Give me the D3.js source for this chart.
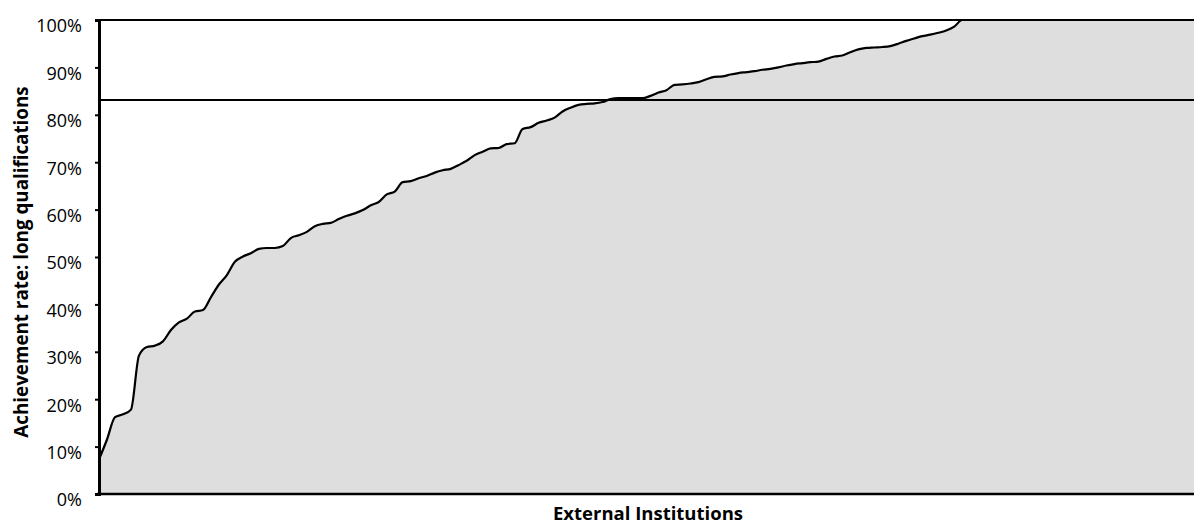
<!DOCTYPE html>
<html>
<head>
<meta charset="utf-8">
<script src="https://cdn.jsdelivr.net/npm/d3@7"></script>
<style>
  html, body { margin: 0; padding: 0; background: #fff; }
  svg { display: block; }
  text { font-family: "Open Sans", sans-serif; fill: #000; }
</style>
</head>
<body>
<svg id="chart" width="1194" height="524"></svg>
<script>
// Achievement rate (%) per external institution, sorted ascending
const rates = [
  7.3, 11.5, 16.2, 16.8, 17.8, 29.2, 31.0, 31.3, 32.2, 34.6,
  36.2, 37.0, 38.5, 38.8, 41.5, 44.2, 46.2, 49.0, 50.1, 50.8,
  51.7, 51.9, 51.9, 52.3, 54.0, 54.6, 55.3, 56.5, 57.0, 57.2,
  58.0, 58.7, 59.2, 59.9, 60.9, 61.6, 63.2, 63.8, 65.8, 66.0,
  66.6, 67.1, 67.8, 68.3, 68.6, 69.4, 70.3, 71.5, 72.2, 72.9,
  73.0, 73.8, 74.0, 77.0, 77.4, 78.3, 78.8, 79.4, 80.7, 81.5,
  82.1, 82.3, 82.4, 82.7, 83.3, 83.5, 83.5, 83.5, 83.5, 84.0,
  84.7, 85.2, 86.3, 86.4, 86.6, 86.9, 87.5, 88.0, 88.1, 88.5,
  88.8, 89.0, 89.2, 89.5, 89.7, 90.0, 90.4, 90.7, 90.9, 91.1,
  91.2, 91.8, 92.3, 92.5, 93.2, 93.8, 94.1, 94.2, 94.3, 94.5,
  95.0, 95.6, 96.1, 96.6, 96.9, 97.3, 97.8, 98.6, 100, 100,
  100, 100, 100, 100, 100, 100, 100, 100, 100, 100,
  100, 100, 100, 100, 100, 100, 100, 100, 100, 100,
  100, 100, 100, 100, 100, 100, 100, 100
];
const benchmark = [83.1];
const yTicks = [0, 10, 20, 30, 40, 50, 60, 70, 80, 90, 100];
const yTitle = "Achievement rate: long qualifications";
const xTitle = "External Institutions";

(function () {
const svg = d3.select("#chart");
const mLeft = 99, mRight = 1194, mTop = 20, mBottom = 494;

const x = d3.scaleLinear().domain([0, rates.length - 1]).range([mLeft, mRight]);
const y = d3.scaleLinear().domain([0, 100]).range([mBottom, mTop]);

// area fill
const area = d3.area()
  .x((d, i) => x(i))
  .y0(y(0))
  .y1(d => y(d))
  .curve(d3.curveMonotoneX);
svg.append("path")
  .datum(rates)
  .attr("d", area)
  .attr("fill", "#dedede");

// top border
svg.append("line")
  .attr("x1", mLeft).attr("x2", mRight)
  .attr("y1", y(100)).attr("y2", y(100))
  .attr("stroke", "#000").attr("stroke-width", 2);

// curve
const line = d3.line()
  .x((d, i) => x(i))
  .y(d => y(d))
  .curve(d3.curveMonotoneX);
svg.append("path")
  .datum(rates)
  .attr("d", line)
  .attr("fill", "none")
  .attr("stroke", "#000")
  .attr("stroke-width", 2.2);

// benchmark line
svg.selectAll(".bench")
  .data(benchmark)
  .enter().append("line")
  .attr("x1", mLeft).attr("x2", mRight)
  .attr("y1", d => y(d)).attr("y2", d => y(d))
  .attr("stroke", "#000").attr("stroke-width", 2);

// y axis
const yAxis = d3.axisLeft(y)
  .tickValues(yTicks)
  .tickFormat(d => d + "%")
  .tickSize(4)
  .tickPadding(13);
const gy = svg.append("g")
  .attr("transform", `translate(${mLeft},0)`)
  .call(yAxis);
gy.select(".domain").attr("stroke", "#000").attr("stroke-width", 3);
gy.selectAll(".tick line").attr("stroke", "#000").attr("stroke-width", 2);
gy.selectAll(".tick text")
  .style("font-family", "'Open Sans', sans-serif")
  .style("font-size", "18px")
  .attr("dy", "0.66em")
  .attr("fill", "#000");

// x axis baseline
svg.append("line")
  .attr("x1", mLeft - 2).attr("x2", mRight)
  .attr("y1", y(0)).attr("y2", y(0))
  .attr("stroke", "#000").attr("stroke-width", 2.5);

// titles
svg.append("text")
  .attr("transform", `translate(28,262) rotate(-90)`)
  .attr("text-anchor", "middle")
  .style("font-size", "18.8px")
  .style("font-weight", "bold")
  .text(yTitle);

svg.append("text")
  .attr("x", 648)
  .attr("y", 520)
  .attr("text-anchor", "middle")
  .style("font-size", "18.5px")
  .style("font-weight", "bold")
  .text(xTitle);
})();
</script>
</body>
</html>
